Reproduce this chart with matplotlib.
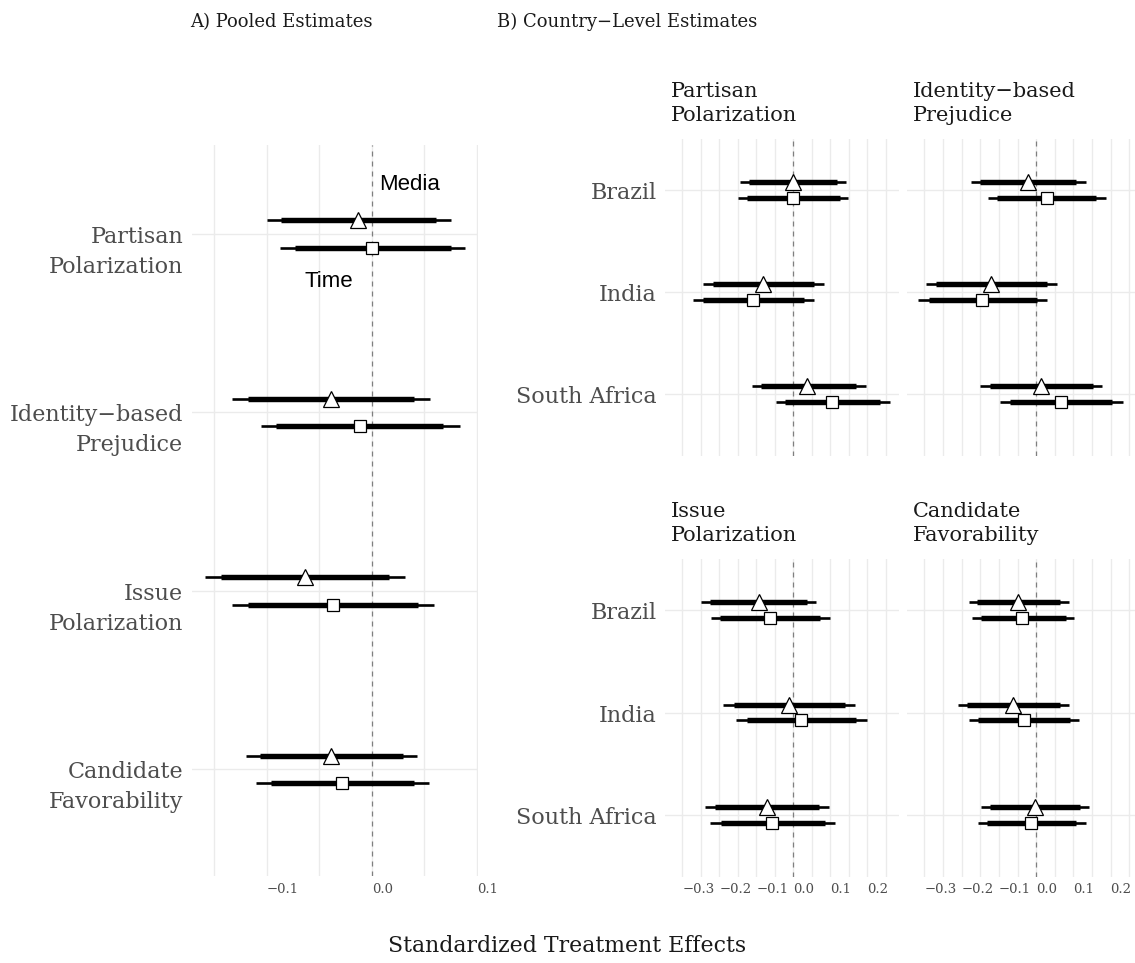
import numpy as np
import matplotlib
matplotlib.use("Agg")
import matplotlib.pyplot as plt
from matplotlib.ticker import MultipleLocator, FuncFormatter
from matplotlib.transforms import offset_copy

# ---- pooled estimates (panel A) ----
outcomes = ["Partisan\nPolarization", "Identity\u2212based\nPrejudice",
            "Issue\nPolarization", "Candidate\nFavorability"]

media_est = [-0.013, -0.039, -0.064, -0.039]
media_lo95 = [-0.100, -0.133, -0.159, -0.120]
media_hi95 = [0.075, 0.055, 0.031, 0.043]
media_lo90 = [-0.087, -0.118, -0.144, -0.107]
media_hi90 = [0.061, 0.040, 0.016, 0.030]

time_est = [0.000, -0.011, -0.037, -0.029]
time_lo95 = [-0.088, -0.106, -0.133, -0.110]
time_hi95 = [0.089, 0.084, 0.059, 0.054]
time_lo90 = [-0.073, -0.091, -0.118, -0.096]
time_hi90 = [0.075, 0.068, 0.044, 0.040]

# ---- country-level estimates (panel B), rows follow outcomes, cols follow countries ----
countries = ["Brazil", "India", "South Africa"]

c_media_est = [[-0.002, -0.081, 0.038], [-0.022, -0.120, 0.014],
               [-0.093, -0.012, -0.072], [-0.049, -0.062, -0.004]]
c_media_lo95 = [[-0.144, -0.245, -0.113], [-0.176, -0.295, -0.150],
                [-0.249, -0.190, -0.239], [-0.181, -0.210, -0.149]]
c_media_hi95 = [[0.143, 0.082, 0.195], [0.134, 0.056, 0.178],
                [0.062, 0.167, 0.096], [0.088, 0.089, 0.142]]
c_media_lo90 = [[-0.119, -0.218, -0.088], [-0.150, -0.268, -0.123],
                [-0.225, -0.160, -0.212], [-0.159, -0.186, -0.125]]
c_media_hi90 = [[0.119, 0.055, 0.168], [0.108, 0.028, 0.152],
                [0.038, 0.139, 0.069], [0.065, 0.064, 0.117]]

c_time_est = [[-0.002, -0.108, 0.104], [0.028, -0.145, 0.066],
              [-0.063, 0.020, -0.057], [-0.037, -0.033, -0.013]]
c_time_lo95 = [[-0.149, -0.270, -0.048], [-0.130, -0.318, -0.098],
               [-0.223, -0.155, -0.225], [-0.172, -0.181, -0.156]]
c_time_hi95 = [[0.148, 0.055, 0.260], [0.187, 0.030, 0.232],
               [0.100, 0.198, 0.112], [0.101, 0.116, 0.133]]
c_time_lo90 = [[-0.125, -0.243, -0.023], [-0.105, -0.289, -0.071],
               [-0.198, -0.126, -0.196], [-0.149, -0.156, -0.132]]
c_time_hi90 = [[0.125, 0.028, 0.233], [0.160, 0.001, 0.205],
               [0.073, 0.170, 0.085], [0.079, 0.090, 0.108]]

W, H = 1135, 963
SERIF = "DejaVu Serif"
GRID = "#EBEBEB"
LABEL = "#4D4D4D"
DARK = "#1A1A1A"
DODGE = 0.077
LINE = 30        # px between baselines, panel A labels
STRIP_LINE = 24  # px between baselines, facet strips

plt.rcParams["font.family"] = SERIF
fig = plt.figure(figsize=(W / 100, H / 100), dpi=100)


def rect(l, r, t, b):
    return [l / W, 1 - b / H, (r - l) / W, (b - t) / H]


def draw_series(ax, y, est, lo95, hi95, lo90, hi90, marker, ms):
    y = np.asarray(y, dtype=float)
    ax.hlines(y, lo95, hi95, color="black", lw=1.9, capstyle="butt", zorder=3)
    ax.hlines(y, lo90, hi90, color="black", lw=3.9, capstyle="butt", zorder=3)
    ax.plot(est, y, ls="none", marker=marker, ms=ms, mfc="white", mec="black",
            mew=0.9, zorder=4)


def ylabels(ax, labels, size):
    base = ax.get_yaxis_transform()
    for i, lab in enumerate(labels):
        for j, line in enumerate(lab.split("\n")):
            tr = offset_copy(base, fig=fig, x=-8.5, y=-9 - j * LINE, units="dots")
            ax.text(0, i, line, transform=tr, ha="right", va="baseline",
                    fontsize=size, color=LABEL)


def style(ax, xlim, ylim, n, show_x):
    ax.set_xlim(*xlim)
    ax.set_ylim(*ylim)
    for s in ax.spines.values():
        s.set_visible(False)
    ax.xaxis.set_major_locator(MultipleLocator(0.1))
    ax.xaxis.set_minor_locator(MultipleLocator(0.05))
    ax.xaxis.set_major_formatter(
        FuncFormatter(lambda v, p: f"{v:.1f}".replace("-", "\u2212")))
    ax.grid(axis="x", which="both", color=GRID, lw=1.0, zorder=0)
    ax.grid(axis="y", which="major", color=GRID, lw=1.0, zorder=0)
    ax.tick_params(which="both", length=0)
    ax.set_axisbelow(True)
    ax.axvline(0, color="#7F7F7F", lw=0.9, ls=(0, (4, 4)), zorder=2)
    ax.set_yticks(np.arange(n))
    ax.tick_params(axis="y", labelleft=False)
    if show_x:
        ax.tick_params(axis="x", labelsize=9.5, labelcolor=LABEL, pad=5)
        for t in ax.get_xticklabels():
            t.set_ha("left")
    else:
        ax.tick_params(axis="x", labelbottom=False)


# ---- panel A ----
axA = fig.add_axes(rect(191.7, 478, 144.75, 876.4))
ya = np.arange(len(outcomes))
draw_series(axA, ya - DODGE, media_est, media_lo95, media_hi95, media_lo90, media_hi90, "^", 12)
draw_series(axA, ya + DODGE, time_est, time_lo95, time_hi95, time_lo90, time_hi90, "s", 8.6)
style(axA, (-0.1717, 0.101), (3.6, -0.5), len(outcomes), True)
ylabels(axA, outcomes, 16)
axA.text(0.007, -0.246, "Media", family="Liberation Sans", fontsize=16, va="baseline")
axA.text(-0.064, 0.295, "Time", family="Liberation Sans", fontsize=16, va="baseline")

# ---- panel B ----
cols = [(665, 899, (-0.347, 0.2855)), (907, 1135, (-0.347, 0.2655))]
rows = [(138.8, 455.5), (558.75, 876.5)]
strip_names = ["Partisan\nPolarization", "Identity\u2212based\nPrejudice",
               "Issue\nPolarization", "Candidate\nFavorability"]
yc = np.arange(len(countries))
for k in range(4):
    r, c = divmod(k, 2)
    l, rr, xl = cols[c]
    t, b = rows[r]
    ax = fig.add_axes(rect(l, rr, t, b))
    draw_series(ax, yc - DODGE, c_media_est[k], c_media_lo95[k], c_media_hi95[k],
                c_media_lo90[k], c_media_hi90[k], "^", 12)
    draw_series(ax, yc + DODGE, c_time_est[k], c_time_lo95[k], c_time_hi95[k],
                c_time_lo90[k], c_time_hi90[k], "s", 8.6)
    style(ax, xl, (2.6, -0.5), len(countries), r == 1)
    if c == 0:
        ylabels(ax, countries, 16)
    lines = strip_names[k].split("\n")
    for j, line in enumerate(lines):
        yb = t - 18 - (len(lines) - 1 - j) * STRIP_LINE
        fig.text((l + 6) / W, 1 - yb / H, line, fontsize=15, color=DARK,
                 ha="left", va="baseline")

# ---- titles ----
fig.text(190 / W, 1 - 27 / H, "A) Pooled Estimates", fontsize=13, color=DARK,
         ha="left", va="baseline")
fig.text(497 / W, 1 - 27 / H, "B) Country\u2212Level Estimates", fontsize=13,
         color=DARK, ha="left", va="baseline")
fig.text(567 / W, 1 - 952 / H, "Standardized Treatment Effects", fontsize=15.8,
         color=DARK, ha="center", va="baseline")

fig.savefig("out.png", dpi=100)
